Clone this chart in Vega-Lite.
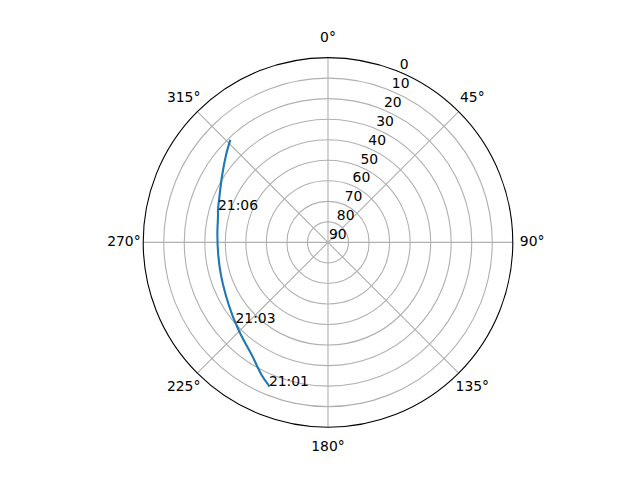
{
  "$schema": "https://vega.github.io/schema/vega-lite/v6.json",
  "width": 640,
  "height": 480,
  "autosize": {"type": "none"},
  "padding": 0,
  "background": "white",
  "config": {
    "view": {"stroke": null},
    "text": {"font": "DejaVu Sans", "fontSize": 13.9, "color": "black"}
  },
  "datasets": {
    "rings": [{"el": 10}, {"el": 20}, {"el": 30}, {"el": 40}, {"el": 50}, {"el": 60}, {"el": 70}, {"el": 80}],
    "frame": [{"el": 0}],
    "spokes": [{"az": 0}, {"az": 45}, {"az": 90}, {"az": 135}, {"az": 180}, {"az": 225}, {"az": 270}, {"az": 315}],
    "thetaLabels": [
      {"az": 0, "label": "0°"}, {"az": 45, "label": "45°"}, {"az": 90, "label": "90°"}, {"az": 135, "label": "135°"},
      {"az": 180, "label": "180°"}, {"az": 225, "label": "225°"}, {"az": 270, "label": "270°"}, {"az": 315, "label": "315°"}
    ],
    "rLabels": [
      {"el": 0}, {"el": 10}, {"el": 20}, {"el": 30}, {"el": 40}, {"el": 50}, {"el": 60}, {"el": 70}, {"el": 80}, {"el": 90}
    ],
    "pass": [
      {"i": 1, "az": 202.4, "el": 14.5, "label": "21:01"},
      {"i": 2, "az": 206.6, "el": 17.8, "label": ""},
      {"i": 3, "az": 214.1, "el": 23.8, "label": ""},
      {"i": 4, "az": 223.2, "el": 28.1, "label": ""},
      {"i": 5, "az": 229.0, "el": 30.3, "label": "21:03"},
      {"i": 6, "az": 232.8, "el": 31.5, "label": ""},
      {"i": 7, "az": 242.8, "el": 34.0, "label": ""},
      {"i": 8, "az": 253.1, "el": 35.5, "label": ""},
      {"i": 9, "az": 263.4, "el": 36.2, "label": ""},
      {"i": 10, "az": 273.8, "el": 36.0, "label": ""},
      {"i": 11, "az": 284.0, "el": 34.8, "label": ""},
      {"i": 12, "az": 286.4, "el": 34.15, "label": "21:06"},
      {"i": 13, "az": 293.6, "el": 32.4, "label": ""},
      {"i": 14, "az": 302.5, "el": 28.9, "label": ""},
      {"i": 15, "az": 310.6, "el": 24.6, "label": ""},
      {"i": 16, "az": 316.0, "el": 21.3, "label": ""}
    ]
  },
  "layer": [
    {
      "data": {"name": "rings"},
      "mark": {"type": "arc", "filled": false, "fill": null, "stroke": "#b0b0b0", "strokeWidth": 1.1, "theta": 0, "theta2": 6.2832},
      "encoding": {
        "x": {"datum": 0, "type": "quantitative", "scale": {"domain": [-90, 90], "range": [143.2, 512.8], "nice": false, "zero": false}, "axis": null},
        "y": {"datum": 0, "type": "quantitative", "scale": {"domain": [-90, 90], "range": [427.2, 57.6], "nice": false, "zero": false}, "axis": null},
        "radius": {"field": "el", "type": "quantitative", "stack": null, "scale": {"type": "linear", "domain": [90, 0], "range": [0, 184.8], "nice": false, "zero": false}}
      }
    },
    {
      "data": {"name": "spokes"},
      "transform": [
        {"calculate": "90 * sin(datum.az * PI / 180)", "as": "sx"},
        {"calculate": "90 * cos(datum.az * PI / 180)", "as": "sy"}
      ],
      "mark": {"type": "rule", "stroke": "#b0b0b0", "strokeWidth": 1.1},
      "encoding": {
        "x": {"field": "sx", "type": "quantitative", "scale": {"domain": [-90, 90], "range": [143.2, 512.8], "nice": false, "zero": false}, "axis": null},
        "y": {"field": "sy", "type": "quantitative", "scale": {"domain": [-90, 90], "range": [427.2, 57.6], "nice": false, "zero": false}, "axis": null},
        "x2": {"datum": 0},
        "y2": {"datum": 0}
      }
    },
    {
      "data": {"name": "frame"},
      "mark": {"type": "arc", "filled": false, "fill": null, "stroke": "black", "strokeWidth": 1.1, "theta": 0, "theta2": 6.2832},
      "encoding": {
        "x": {"datum": 0, "type": "quantitative"},
        "y": {"datum": 0, "type": "quantitative"},
        "radius": {"field": "el", "type": "quantitative", "stack": null}
      }
    },
    {
      "data": {"name": "pass"},
      "transform": [
        {"calculate": "(90 - datum.el) * sin(datum.az * PI / 180)", "as": "px"},
        {"calculate": "(90 - datum.el) * cos(datum.az * PI / 180)", "as": "py"}
      ],
      "mark": {"type": "line", "stroke": "#1f77b4", "strokeWidth": 2.1, "strokeCap": "square", "interpolate": "catmull-rom"},
      "encoding": {
        "x": {"field": "px", "type": "quantitative"},
        "y": {"field": "py", "type": "quantitative"},
        "order": {"field": "i", "type": "quantitative"}
      }
    },
    {
      "data": {"name": "pass"},
      "transform": [
        {"filter": "datum.label != ''"},
        {"calculate": "(90 - datum.el) * sin(datum.az * PI / 180)", "as": "px"},
        {"calculate": "(90 - datum.el) * cos(datum.az * PI / 180)", "as": "py"}
      ],
      "mark": {"type": "text", "align": "left", "baseline": "alphabetic"},
      "encoding": {
        "x": {"field": "px", "type": "quantitative"},
        "y": {"field": "py", "type": "quantitative"},
        "text": {"field": "label"}
      }
    },
    {
      "data": {"name": "thetaLabels"},
      "transform": [
        {"calculate": "99.4 * sin(datum.az * PI / 180)", "as": "tx"},
        {"calculate": "99.4 * cos(datum.az * PI / 180)", "as": "ty"}
      ],
      "mark": {"type": "text", "align": "center", "baseline": "middle"},
      "encoding": {
        "x": {"field": "tx", "type": "quantitative"},
        "y": {"field": "ty", "type": "quantitative"},
        "text": {"field": "label"}
      }
    },
    {
      "data": {"name": "rLabels"},
      "transform": [
        {"calculate": "(90 - datum.el) * sin(22.5 * PI / 180)", "as": "rx"},
        {"calculate": "(90 - datum.el) * cos(22.5 * PI / 180)", "as": "ry"}
      ],
      "mark": {"type": "text", "align": "left", "baseline": "bottom", "dx": 1},
      "encoding": {
        "x": {"field": "rx", "type": "quantitative"},
        "y": {"field": "ry", "type": "quantitative"},
        "text": {"field": "el", "type": "quantitative"}
      }
    }
  ]
}
